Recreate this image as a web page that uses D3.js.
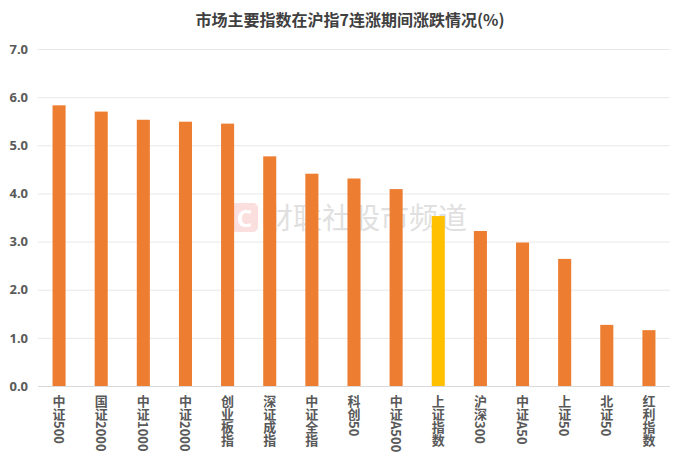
<!DOCTYPE html>
<html>
<head>
<meta charset="utf-8">
<script src="https://cdn.jsdelivr.net/npm/d3@7"></script>
<style>
  body { margin: 0; background: #fff; }
  text { font-family: "Noto Sans CJK SC", "Noto Sans", sans-serif; }
</style>
</head>
<body>
<svg id="chart"></svg>
<script>
// index names, % change while the SSE index rose 7 days in a row
const categories = ["中证500", "国证2000", "中证1000", "中证2000", "创业板指", "深证成指", "中证全指",
  "科创50", "中证A500", "上证指数", "沪深300", "中证A50", "上证50", "北证50", "红利指数"];
const values = [5.83, 5.70, 5.53, 5.49, 5.45, 4.77, 4.41, 4.31, 4.09, 3.53, 3.22, 2.98, 2.64, 1.27, 1.16];
const highlight = "上证指数";
const yTicks = [0, 1, 2, 3, 4, 5, 6, 7];

const width = 692, height = 462;
const margin = {top: 49, right: 22, bottom: 76, left: 38};

const svg = d3.select("#chart")
  .attr("width", width)
  .attr("height", height);

const x = d3.scaleBand()
  .domain(categories)
  .range([margin.left, width - margin.right])
  .paddingInner(0.69)
  .paddingOuter(0.345);

const y = d3.scaleLinear()
  .domain([0, 7])
  .range([height - margin.bottom, margin.top]);

// title
svg.append("text")
  .attr("x", 350)
  .attr("y", 26)
  .attr("text-anchor", "middle")
  .attr("font-size", 16)
  .attr("font-weight", "bold")
  .attr("fill", "#404040")
  .text("市场主要指数在沪指7连涨期间涨跌情况(%)");

// grid lines
svg.append("g")
  .selectAll("line")
  .data(yTicks)
  .join("line")
  .attr("x1", margin.left)
  .attr("x2", width - margin.right)
  .attr("y1", d => y(d) + 0.5)
  .attr("y2", d => y(d) + 0.5)
  .attr("stroke", d => d === 0 ? "#d9d9d9" : "#e8e8e8")
  .attr("stroke-width", 1);

// y labels
const yAxis = svg.append("g")
  .attr("transform", `translate(${margin.left - 10},0)`)
  .call(d3.axisLeft(y).tickValues(yTicks).tickFormat(d3.format(".1f")).tickSize(0));
yAxis.select(".domain").remove();
yAxis.selectAll("text")
  .attr("x", 0)
  .attr("font-size", 13)
  .attr("font-weight", "bold")
  .attr("fill", "#595959")
  .style("font-family", "\"Noto Sans\", \"Noto Sans CJK SC\", sans-serif");

// watermark
const wm = svg.append("g").attr("opacity", 0.55);
wm.append("rect")
  .attr("x", 231).attr("y", 203)
  .attr("width", 27).attr("height", 29)
  .attr("rx", 5)
  .attr("fill", "#f9c6c6");
wm.append("text")
  .attr("x", 244.5).attr("y", 227)
  .attr("text-anchor", "middle")
  .attr("font-size", 24)
  .attr("font-weight", "bold")
  .attr("fill", "#fff")
  .style("font-family", "\"Noto Sans\", sans-serif")
  .text("C");
wm.append("text")
  .attr("x", 264).attr("y", 229)
  .attr("font-size", 29)
  .attr("fill", "#c8c8c8")
  .text("财联社股市频道");

// bars
svg.append("g")
  .selectAll("rect")
  .data(categories)
  .join("rect")
  .attr("x", d => x(d))
  .attr("y", (d, i) => y(values[i]))
  .attr("width", x.bandwidth())
  .attr("height", (d, i) => y(0) - y(values[i]))
  .attr("fill", d => d === highlight ? "#ffc000" : "#ed7d31");

// vertical category labels
svg.append("g")
  .selectAll("text")
  .data(categories)
  .join("text")
  .attr("x", d => x(d) + x.bandwidth() / 2)
  .attr("y", 395)
  .style("writing-mode", "vertical-rl")
  .style("text-orientation", "mixed")
  .attr("font-size", 13)
  .attr("font-weight", "bold")
  .attr("fill", "#595959")
  .text(d => d);
</script>
</body>
</html>
